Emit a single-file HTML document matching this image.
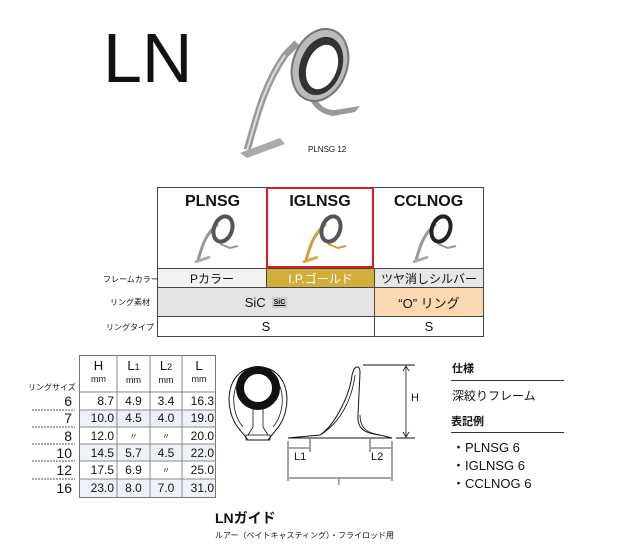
<!DOCTYPE html>
<html><head><meta charset="utf-8"><style>
body{margin:0;width:619px;height:558px;background:#fff;position:relative;overflow:hidden;font-family:"Liberation Sans","Noto Sans CJK JP",sans-serif;color:#111}
.a{position:absolute;white-space:nowrap}
.c{position:absolute;box-sizing:border-box;display:flex;align-items:center;justify-content:center}
.r{position:absolute;height:17px;line-height:17px;font-size:12px}
.r span{position:absolute;top:0}
</style></head><body>
<div class="a" style="left:103px;top:18px;font-size:70px;line-height:80px;font-weight:400">LN</div>
<svg class="a" style="left:225px;top:10px" width="150" height="150" viewBox="0 0 150 150">
<path d="M22 140 C30 115 36 80 60 45 L72 33" stroke="#999" stroke-width="7" fill="none"/>
<path d="M22 140 C30 115 36 80 60 45" stroke="#ddd" stroke-width="2" fill="none"/>
<path d="M15 143 L55 128 L60 134 L22 148 Z" fill="#aaa"/>
<path d="M88 80 C92 95 100 100 110 100 L135 96 L130 102 L108 106 C95 104 85 95 84 85 Z" fill="#999"/>
<ellipse cx="95" cy="55" rx="27" ry="37" transform="rotate(20 95 55)" fill="#bbb" stroke="#777" stroke-width="2"/>
<ellipse cx="96" cy="56" rx="21" ry="30" transform="rotate(20 96 56)" fill="#333"/>
<ellipse cx="97" cy="57" rx="15" ry="23" transform="rotate(20 97 57)" fill="#fff"/>
</svg>
<div class="a" style="left:308px;top:145px;font-size:8px">PLNSG 12</div>

<!-- top table -->
<div class="c" style="left:157px;top:187px;width:110px;height:81px;border:1px solid #444;border-right:none;border-bottom:none;flex-direction:column;justify-content:flex-start;padding-top:5px"><div style="font-size:16px;font-weight:bold">PLNSG</div></div>
<div class="c" style="left:374px;top:187px;width:110px;height:81px;border:1px solid #444;border-left:none;border-bottom:none;justify-content:flex-start;flex-direction:column;padding-top:5px"><div style="font-size:16px;font-weight:bold">CCLNOG</div></div>
<div class="c" style="left:266px;top:187px;width:108px;height:81px;border:2px solid #e0171b;flex-direction:column;justify-content:flex-start;padding-top:4px"><div style="font-size:16px;font-weight:bold">IGLNSG</div></div>
<svg class="a" style="left:190px;top:212px" width="290" height="55">
<g fill="none"><path d="M8 48 C12 35 15 22 28 12" stroke="#999" stroke-width="3"/><path d="M5 50 L20 45" stroke="#aaa" stroke-width="3"/><path d="M30 32 L40 36 L48 34" stroke="#999" stroke-width="2"/><ellipse cx="33" cy="17" rx="9" ry="13" transform="rotate(20 33 17)" stroke="#555" stroke-width="4"/></g>
<g transform="translate(108,0)" fill="none"><path d="M8 48 C12 35 15 22 28 12" stroke="#c9a03a" stroke-width="3"/><path d="M5 50 L20 45" stroke="#d4aa44" stroke-width="3"/><path d="M30 32 L40 36 L48 34" stroke="#c9a03a" stroke-width="2"/><ellipse cx="33" cy="17" rx="9" ry="13" transform="rotate(20 33 17)" stroke="#555" stroke-width="4"/></g>
<g transform="translate(218,0)" fill="none"><path d="M8 48 C12 35 15 22 28 12" stroke="#999" stroke-width="3"/><path d="M5 50 L20 45" stroke="#aaa" stroke-width="3"/><path d="M30 32 L40 36 L48 34" stroke="#999" stroke-width="2"/><ellipse cx="33" cy="17" rx="9" ry="13" transform="rotate(20 33 17)" stroke="#222" stroke-width="4"/></g>
</svg>
<div class="c" style="left:157px;top:268px;width:110px;height:20px;background:#f2f2f2;border:1px solid #444;font-size:12px">Pカラー</div>
<div class="c" style="left:266px;top:268px;width:109px;height:20px;background:#d1ae3a;border:1px solid #444;color:#fff;font-size:12px">I.P.ゴールド</div>
<div class="c" style="left:374px;top:268px;width:110px;height:20px;background:#e6e6e6;border:1px solid #444;font-size:12px">ツヤ消しシルバー</div>
<div class="c" style="left:157px;top:287px;width:218px;height:30px;background:#e4e4e4;border:1px solid #444;font-size:13px">SiC <span style="font-size:7px;font-weight:bold;background:#ccc;padding:2px;margin-left:6px;text-decoration:underline">SiC</span></div>
<div class="c" style="left:374px;top:287px;width:110px;height:30px;background:#fad8b0;border:1px solid #444;font-size:13px">“O” リング</div>
<div class="c" style="left:157px;top:316px;width:218px;height:21px;border:1px solid #444;font-size:13px">S</div>
<div class="c" style="left:374px;top:316px;width:110px;height:21px;border:1px solid #444;font-size:13px">S</div>
<div class="a" style="left:103px;top:274px;font-size:8px">フレームカラー</div>
<div class="a" style="left:110px;top:297px;font-size:8px">リング素材</div>
<div class="a" style="left:106px;top:322px;font-size:8px">リングタイプ</div>

<!-- spec table -->
<div class="a" style="left:79px;top:355px;width:137px;height:143px;border:1px solid #777;box-sizing:border-box"></div>
<svg class="a" style="left:20px;top:350px" width="200" height="150">
<g fill="#eef2f8"><rect x="60" y="60" width="135" height="17"/><rect x="60" y="94" width="135" height="17"/><rect x="60" y="129" width="135" height="18"/></g>
<g stroke="#888" stroke-width="1"><line x1="59" y1="42" x2="196" y2="42"/><line x1="59" y1="60" x2="196" y2="60"/><line x1="59" y1="77" x2="196" y2="77"/><line x1="59" y1="94" x2="196" y2="94"/><line x1="59" y1="111" x2="196" y2="111"/><line x1="59" y1="129" x2="196" y2="129"/>
<line x1="97" y1="5" x2="97" y2="148"/><line x1="130" y1="5" x2="130" y2="148"/><line x1="162" y1="5" x2="162" y2="148"/></g>
<g stroke="#555" stroke-dasharray="2,1"><line x1="12" y1="60" x2="55" y2="60"/><line x1="12" y1="77" x2="55" y2="77"/><line x1="12" y1="94" x2="55" y2="94"/><line x1="12" y1="111" x2="55" y2="111"/><line x1="12" y1="129" x2="55" y2="129"/></g>
</svg>
<div class="a" style="left:80px;top:360px;width:37px;text-align:center;font-size:13px;line-height:12px">H<br><span style="font-size:9px">mm</span></div>
<div class="a" style="left:117px;top:360px;width:33px;text-align:center;font-size:13px;line-height:12px">L<span style="font-size:9px">1</span><br><span style="font-size:9px">mm</span></div>
<div class="a" style="left:150px;top:360px;width:32px;text-align:center;font-size:13px;line-height:12px">L<span style="font-size:9px">2</span><br><span style="font-size:9px">mm</span></div>
<div class="a" style="left:182px;top:360px;width:34px;text-align:center;font-size:13px;line-height:12px">L<br><span style="font-size:9px">mm</span></div>
<div class="a" style="left:28px;top:382px;font-size:8px">リングサイズ</div>

<div class="r" style="left:0;top:393px;width:220px"><span style="left:44px;width:28px;text-align:right;font-size:14px">6</span><span style="left:82px;width:32px;text-align:right">8.7</span><span style="left:117px;width:33px;text-align:center">4.9</span><span style="left:150px;width:32px;text-align:center">3.4</span><span style="left:182px;width:32px;text-align:right">16.3</span></div>
<div class="r" style="left:0;top:410px;width:220px"><span style="left:44px;width:28px;text-align:right;font-size:14px">7</span><span style="left:82px;width:32px;text-align:right">10.0</span><span style="left:117px;width:33px;text-align:center">4.5</span><span style="left:150px;width:32px;text-align:center">4.0</span><span style="left:182px;width:32px;text-align:right">19.0</span></div>
<div class="r" style="left:0;top:428px;width:220px"><span style="left:44px;width:28px;text-align:right;font-size:14px">8</span><span style="left:82px;width:32px;text-align:right">12.0</span><span style="left:117px;width:33px;text-align:center;font-size:8px">〃</span><span style="left:150px;width:32px;text-align:center;font-size:8px">〃</span><span style="left:182px;width:32px;text-align:right">20.0</span></div>
<div class="r" style="left:0;top:445px;width:220px"><span style="left:44px;width:28px;text-align:right;font-size:14px">10</span><span style="left:82px;width:32px;text-align:right">14.5</span><span style="left:117px;width:33px;text-align:center">5.7</span><span style="left:150px;width:32px;text-align:center">4.5</span><span style="left:182px;width:32px;text-align:right">22.0</span></div>
<div class="r" style="left:0;top:462px;width:220px"><span style="left:44px;width:28px;text-align:right;font-size:14px">12</span><span style="left:82px;width:32px;text-align:right">17.5</span><span style="left:117px;width:33px;text-align:center">6.9</span><span style="left:150px;width:32px;text-align:center;font-size:8px">〃</span><span style="left:182px;width:32px;text-align:right">25.0</span></div>
<div class="r" style="left:0;top:480px;width:220px"><span style="left:44px;width:28px;text-align:right;font-size:14px">16</span><span style="left:82px;width:32px;text-align:right">23.0</span><span style="left:117px;width:33px;text-align:center">8.0</span><span style="left:150px;width:32px;text-align:center">7.0</span><span style="left:182px;width:32px;text-align:right">31.0</span></div>

<!-- drawings -->
<svg class="a" style="left:220px;top:355px" width="210" height="140" fill="none" stroke="#111">
<path d="M20 75 C2 55 5 12 38 12 C71 12 74 55 56 75 L48 85 L28 85 Z" stroke-width="1"/>
<path d="M23 72 C8 55 10 16 38 16 C66 16 68 55 53 72" stroke-width="0.8"/>
<circle cx="38" cy="33" r="18" stroke-width="8"/>
<path d="M33 52 L33 72 L28 80 M43 52 L43 72 L48 80" stroke-width="0.8"/>
<rect x="26" y="80" width="24" height="5" stroke-width="0.8"/>
<path d="M68 83 L100 80 C115 70 130 40 132 20 L134 14 C138 10 140 12 140 18 L138 60 C137 72 142 78 160 80 L172 83 Z" stroke-width="1"/>
<path d="M100 80 C120 68 132 45 135 20 M140 60 C140 74 148 78 160 80" stroke-width="0.8"/>
<line x1="143" y1="10" x2="195" y2="10" stroke-width="1"/><line x1="176" y1="83" x2="195" y2="83" stroke-width="1"/>
<line x1="186" y1="12" x2="186" y2="81" stroke-width="0.8"/><path d="M183 16 L186 11 L189 16 M183 77 L186 82 L189 77" stroke-width="0.8"/>
<line x1="68" y1="86" x2="68" y2="126" stroke-width="0.8"/><line x1="172" y1="86" x2="172" y2="126" stroke-width="0.8"/>
<line x1="90" y1="84" x2="90" y2="97" stroke-width="0.8"/><line x1="150" y1="84" x2="150" y2="97" stroke-width="0.8"/>
<line x1="69" y1="93" x2="89" y2="93" stroke-width="0.8"/><line x1="151" y1="93" x2="171" y2="93" stroke-width="0.8"/>
<line x1="69" y1="123" x2="171" y2="123" stroke-width="0.8"/>
</svg>
<div class="a" style="left:411px;top:392px;font-size:11px">H</div>
<div class="a" style="left:294px;top:451px;font-size:11px">L1</div>
<div class="a" style="left:371px;top:451px;font-size:11px">L2</div>
<div class="a" style="left:338px;top:478px;font-size:8px">l</div>

<div class="a" style="left:452px;top:360px;font-size:11px;font-weight:bold">仕様</div>
<div class="a" style="left:451px;top:380px;width:113px;border-top:1px solid #333"></div>
<div class="a" style="left:452px;top:387px;font-size:12px">深絞りフレーム</div>
<div class="a" style="left:451px;top:413px;font-size:11px;font-weight:bold">表記例</div>
<div class="a" style="left:451px;top:432px;width:113px;border-top:1px solid #333"></div>
<div class="a" style="left:452px;top:439px;font-size:13px;line-height:18px">・PLNSG 6<br>・IGLNSG 6<br>・CCLNOG 6</div>

<div class="a" style="left:215px;top:508px;font-size:14px;font-weight:bold">LNガイド</div>
<div class="a" style="left:215px;top:530px;font-size:8px">ルアー（ベイトキャスティング）・フライロッド用</div>
</body></html>
